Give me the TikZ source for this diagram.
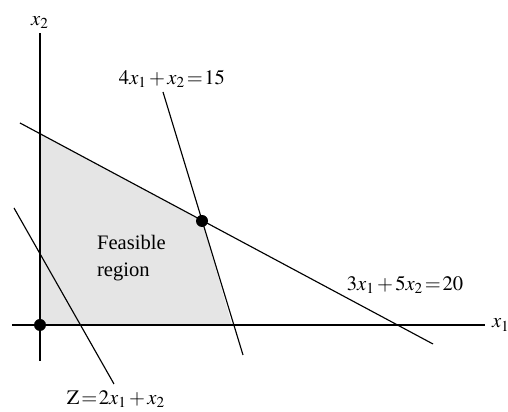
\documentclass[tikz,border=0pt]{standalone}
\usepackage{mathptmx}
\usepackage{fontspec}
\setmainfont{Liberation Serif}
\usetikzlibrary{positioning}

\begin{document}
\begin{tikzpicture}[
  font=\fontsize{11.7pt}{15.3pt}\selectfont,
  axis/.style={line width=0.8pt, draw=black},
  cline/.style={line width=0.65pt, draw=black},
  lab/.style={inner sep=1pt, execute at begin node={\medmuskip=2mu\relax\thickmuskip=1.5mu\relax}},
  vertex/.style={circle, fill=black, inner sep=0pt, minimum size=2.4mm},
]
  \useasboundingbox (-0.8,-1.74) rectangle (9.36,6.5);

  % --- corner points of the region ---
  \coordinate (O) at (0,0);
  \coordinate (A) at (0,3.84);
  \coordinate (B) at (3.84,0);
  \coordinate (P) at (3.24,2.08);

  \fill[black!10] (O) -- (A) -- (P) -- (B) -- cycle;

  % --- axes ---
  \coordinate (x1a) at (-0.56,0);
  \coordinate (x1b) at (8.9,0);
  \coordinate (x2a) at (0,-0.72);
  \coordinate (x2b) at (0,5.84);
  \draw[axis] (x1a) -- (x1b);
  \draw[axis] (x2a) -- (x2b);
  \node[lab, right=1mm of x1b] (x1lab) {$x_1$};
  \node[lab, above=0.5mm of x2b] (x2lab) {$x_2$};

  % --- constraint lines ---
  \coordinate (c1a) at (-0.4,4.04);
  \coordinate (c1b) at (7.86,-0.38);
  \coordinate (c2a) at (2.46,4.66);
  \coordinate (c2b) at (4.06,-0.6);
  \draw[cline] (c1a) -- (c1b);
  \draw[cline] (c2a) -- (c2b);
  \node[lab, anchor=south] (c1lab) at (7.3,0.58) {$3x_1+5x_2=20$};
  \node[lab, above=0.5mm of c2a, xshift=1.8mm] (c2lab) {$4x_1+x_2=15$};

  % --- objective ---
  \coordinate (z1) at (-0.52,2.34);
  \coordinate (z2) at (1.48,-1.18);
  \draw[cline] (z1) -- (z2);
  \node[lab, below=1mm of z2, xshift=0.4mm] (zlab) {$\mathrm{Z}=2x_1+x_2$};

  \node[lab, align=left, anchor=west] (feas) at (1.1,1.33) {Feasible\\region};

  \node[vertex] (dO) at (O) {};
  \node[vertex] (dP) at (P) {};

\end{tikzpicture}
\end{document}
